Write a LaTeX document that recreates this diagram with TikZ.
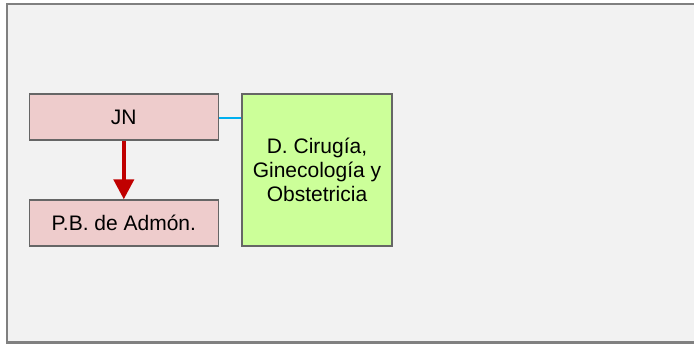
\documentclass[tikz,border=0pt]{standalone}
\usepackage{fontspec}
\setmainfont{Liberation Sans}
\usetikzlibrary{arrows.meta}
\definecolor{bgc}{HTML}{F2F2F2}
\definecolor{framec}{HTML}{808080}
\definecolor{pinkc}{HTML}{EECCCC}
\definecolor{greenc}{HTML}{CCFF99}
\definecolor{edgec}{HTML}{666666}
\definecolor{redc}{HTML}{C00000}
\definecolor{bluec}{HTML}{00B0F0}
\tikzset{
  pinkbox/.style={draw=edgec, line width=1.3pt, fill=pinkc, minimum width=189pt, minimum height=46pt, inner sep=0pt, font=\fontsize{21}{23.7}\selectfont},
  greenbox/.style={draw=edgec, line width=1.3pt, fill=greenc, minimum width=150pt, minimum height=152pt, inner sep=0pt, align=center, font=\fontsize{21}{23.7}\selectfont},
  redarrow/.style={draw=redc, line width=4pt, -{Triangle[width=20pt,length=20pt]}},
  blueline/.style={draw=bluec, line width=2pt},
}
\begin{document}
\begin{tikzpicture}[x=1pt,y=-1pt]
\useasboundingbox (0,0) rectangle (694,344);
\fill[framec] (0,0) rectangle (694,344);
\fill[white] (0,0) rectangle (694,3);
\fill[white] (0,0) rectangle (6,344);
\draw[framec, line width=2.2pt, fill=bgc] (7.1,4.3) rectangle (700,342.3);
\node[pinkbox] (jn) at (123.8,117) {JN};
\node[pinkbox] (pb) at (123.8,223) {P.B. de Admón.};
\node[greenbox] (dc) at (317,170) {D. Cirugía,\\Ginecología y\\Obstetricia};
\draw[redarrow] (jn.south) -- (pb.north);
\draw[blueline] (jn.east |- 0,117.7) -- (dc.west |- 0,117.7);
\end{tikzpicture}
\end{document}
